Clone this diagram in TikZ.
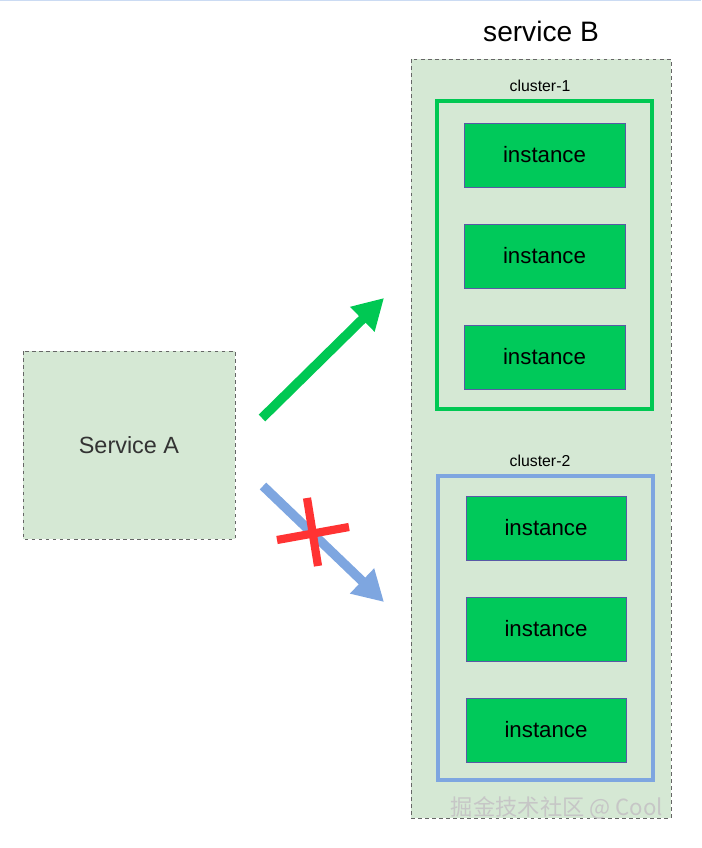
\documentclass[tikz,border=0pt]{standalone}
\usepackage{fontspec}
\setmainfont{Liberation Sans}
\newfontfamily\cjk{Noto Sans CJK SC}
\usetikzlibrary{arrows.meta}
\definecolor{lg}{HTML}{D5E8D4}
\definecolor{gb}{HTML}{00C853}
\definecolor{ig}{HTML}{00C95A}
\definecolor{bl}{HTML}{7EA6E0}
\definecolor{rd}{HTML}{FF3333}
\begin{document}
\begin{tikzpicture}[x=0.03cm,y=-0.03cm,
  dbox/.style={draw=gray!80!black,dashed,fill=lg,line width=0.8pt},
  inst/.style={draw=gray!70!blue,fill=ig,line width=0.8pt,font=\fontsize{19}{22}\selectfont},
  clab/.style={font=\fontsize{13.5}{16}\selectfont}]
\useasboundingbox (0,0) rectangle (701,848);
\draw[bl!40,line width=1pt] (0,0.5) -- (701,0.5);
% service B
\draw[dbox] (411,59) rectangle (671,818);
\node[font=\fontsize{24}{28}\selectfont] (tb) at (541,31) {service B};
\node[clab] (c1l) at (540,86) {cluster-1};
\draw[gb,line width=3.5pt] (437,101) rectangle (652,409);
\foreach \y/\n in {123/a,224/b,325/c}
  \draw[inst] (464,\y) rectangle (625,\y+64) node[midway,black] (i\n) {instance};
\node[clab] (c2l) at (540,461) {cluster-2};
\draw[bl,line width=3.5pt] (438,476) rectangle (653,780);
\foreach \y/\n in {496/d,597/e,698/f}
  \draw[inst] (466,\y) rectangle (626,\y+64) node[midway,black] (i\n) {instance};
% service A
\draw[dbox] (23,351) rectangle (235,539) node[midway,font=\fontsize{20}{24}\selectfont,black!80] (sa) {Service A};
% arrows
\coordinate (g0) at (262,418); \coordinate (g1) at (384,298);
\coordinate (b0) at (263,486); \coordinate (b1) at (384,602);
\draw[gb,line width=8pt,-{Triangle[length=26pt,width=28pt]}] (g0) -- (g1);
\draw[bl,line width=8pt,-{Triangle[length=26pt,width=28pt]}] (b0) -- (b1);
\coordinate (x1) at (277,540); \coordinate (x2) at (349,527);
\coordinate (x3) at (307,498); \coordinate (x4) at (318,566);
\draw[rd,line width=7pt] (x1) -- (x2);
\draw[rd,line width=7pt] (x3) -- (x4);
\node[font=\cjk\fontsize{19}{22}\selectfont,text=gray!45] (wm) at (557,808) {掘金技术社区 @ Cool};
\end{tikzpicture}
\end{document}
